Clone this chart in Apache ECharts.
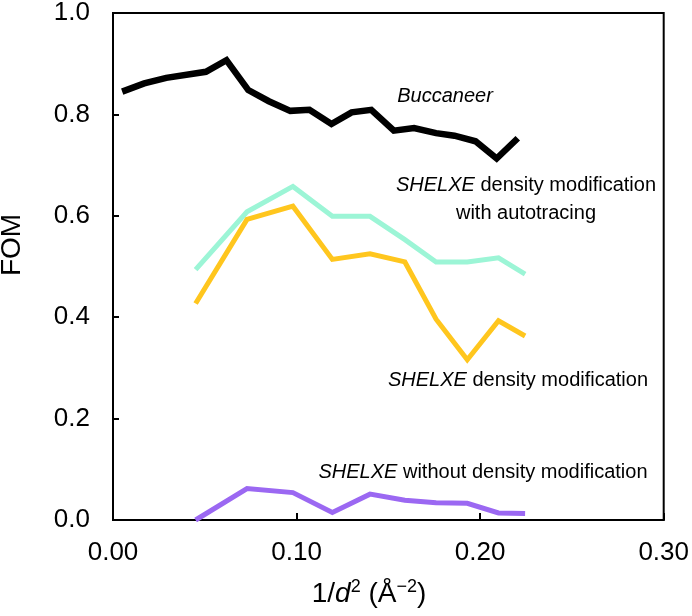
<!DOCTYPE html>
<html>
<head>
<meta charset="utf-8">
<script src="https://cdn.jsdelivr.net/npm/echarts@6/dist/echarts.min.js"></script>
<style>
html,body{margin:0;padding:0;background:#fff;}
#chart{width:692px;height:616px;}
</style>
</head>
<body>
<div id="chart"></div>
<script>
// Data
var bucX = [0.005, 0.017, 0.029, 0.0506, 0.0618, 0.0737, 0.0849, 0.0966, 0.107, 0.119, 0.130, 0.1407, 0.153, 0.164, 0.176, 0.186, 0.1975, 0.209, 0.2205];
var bucY = [0.845, 0.861, 0.872, 0.884, 0.907, 0.848, 0.826, 0.807, 0.809, 0.781, 0.804, 0.809, 0.768, 0.773, 0.763, 0.758, 0.747, 0.713, 0.753];

var shelxeX = [0.045, 0.073, 0.098, 0.1195, 0.140, 0.159, 0.176, 0.193, 0.210, 0.2245];
var autoY = [0.494, 0.608, 0.658, 0.599, 0.599, 0.553, 0.509, 0.509, 0.517, 0.485];
var dmY = [0.427, 0.593, 0.619, 0.514, 0.525, 0.509, 0.396, 0.316, 0.393, 0.363];
var noDmY = [0.0, 0.062, 0.054, 0.015, 0.051, 0.039, 0.034, 0.033, 0.014, 0.013];

var xTicks = [0.00, 0.10, 0.20, 0.30];
var yTicks = [0.0, 0.2, 0.4, 0.6, 0.8, 1.0];

function pairs(xs, ys){ return xs.map(function(x,i){ return [x, ys[i]]; }); }

var FONT = '"Liberation Sans", Arial, Helvetica, sans-serif';
var chart = echarts.init(document.getElementById('chart'), null, {renderer:'canvas'});

function lineSeries(name, data, color, width){
  return {name:name, type:'line', data:data, symbol:'none', smooth:false,
    lineStyle:{color:color, width:width, join:'miter', cap:'butt'}, z: 3};
}

chart.setOption({
  animation:false,
  backgroundColor:'#ffffff',
  grid:{left:113, right:24, top:11, bottom:96, show:true, borderColor:'#000', borderWidth:2, backgroundColor:'transparent'},
  xAxis:{type:'value', min:xTicks[0], max:xTicks[xTicks.length-1], interval:0.1,
    axisLine:{show:true, onZero:false, lineStyle:{color:'#000', width:2}},
    axisTick:{show:true, inside:true, length:7, lineStyle:{color:'#000', width:2}},
    splitLine:{show:false},
    axisLabel:{color:'#000', fontSize:26, fontFamily:FONT, margin:20,
      formatter:function(v){ return v.toFixed(2); }}
  },
  yAxis:{type:'value', min:yTicks[0], max:yTicks[yTicks.length-1], interval:0.2,
    axisLine:{show:true, onZero:false, lineStyle:{color:'#000', width:2}},
    axisTick:{show:true, inside:true, length:6, lineStyle:{color:'#000', width:2}},
    splitLine:{show:false},
    axisLabel:{color:'#000', fontSize:26, fontFamily:FONT, margin:23,
      formatter:function(v){ return v.toFixed(1); }}
  },
  series:[
    lineSeries('Buccaneer', pairs(bucX, bucY), '#000000', 6.5),
    lineSeries('SHELXE density modification with autotracing', pairs(shelxeX, autoY), '#9cf5d6', 5),
    lineSeries('SHELXE density modification', pairs(shelxeX, dmY), '#ffc61e', 5),
    lineSeries('SHELXE without density modification', pairs(shelxeX, noDmY), '#9b68f2', 5)
  ],
  graphic:[
    {type:'text', x:12, y:245, rotation:Math.PI/2, style:{text:'FOM', font:'28px '+FONT, fill:'#000', align:'center', verticalAlign:'middle'}},
    {type:'text', x:369, y:594, style:{text:'1/{i|d}{s|2} (Å{s|\u22122})', font:'28px '+FONT, fill:'#000', align:'center', verticalAlign:'middle',
      rich:{i:{fontStyle:'italic', fontSize:28, fontFamily:FONT, fill:'#000'}, s:{fontSize:18, fontFamily:FONT, fill:'#000', verticalAlign:'top', padding:[0,0,14,0]}}}},
    {type:'text', x:445, y:96, style:{text:'Buccaneer', font:'italic 20px '+FONT, fill:'#000', align:'center', verticalAlign:'middle'}},
    {type:'text', x:526, y:199, style:{text:'{i|SHELXE} density modification\nwith autotracing', font:'20px '+FONT, fill:'#000', align:'center', verticalAlign:'middle', lineHeight:28,
      rich:{i:{fontStyle:'italic', fontSize:20, fontFamily:FONT, fill:'#000', lineHeight:28}}}},
    {type:'text', x:518, y:380, style:{text:'{i|SHELXE} density modification', font:'20px '+FONT, fill:'#000', align:'center', verticalAlign:'middle',
      rich:{i:{fontStyle:'italic', fontSize:20, fontFamily:FONT, fill:'#000'}}}},
    {type:'text', x:483, y:472, style:{text:'{i|SHELXE} without density modification', font:'20px '+FONT, fill:'#000', align:'center', verticalAlign:'middle',
      rich:{i:{fontStyle:'italic', fontSize:20, fontFamily:FONT, fill:'#000'}}}}
  ]
});
</script>
</body>
</html>
